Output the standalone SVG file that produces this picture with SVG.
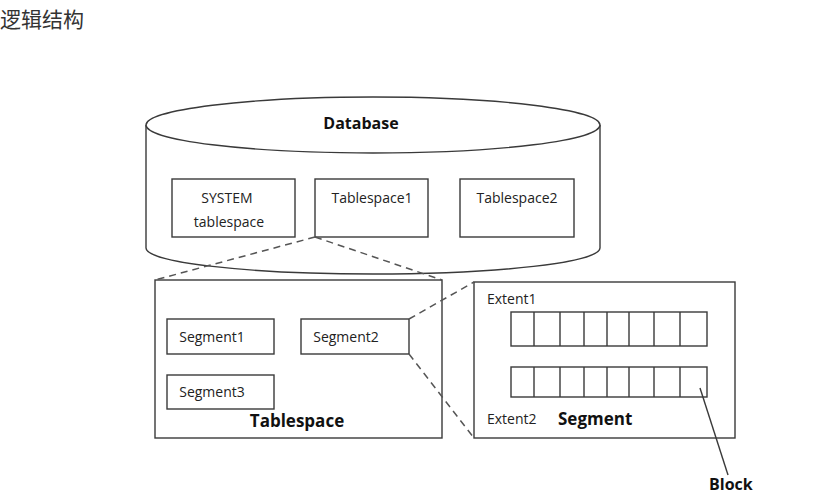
<svg xmlns="http://www.w3.org/2000/svg" width="830" height="500" viewBox="0 0 830 500">
<style>
.ln{fill:none;stroke:#3a3a3a;stroke-width:1.4}
.bx{fill:#fff;stroke:#3a3a3a;stroke-width:1.4}
.ds{fill:none;stroke:#555;stroke-width:1.5;stroke-dasharray:7 5}
.t{font-family:"Open Sans","Noto Sans","Liberation Sans",sans-serif;font-size:14px;fill:#222}
.b{font-family:"Open Sans","Noto Sans","Liberation Sans",sans-serif;font-size:16px;font-weight:bold;fill:#111}
.bl{font-size:17px}
.title{font-family:"Noto Sans CJK SC","Noto Sans",sans-serif;font-size:21px;fill:#333}
</style>
<rect width="830" height="500" fill="#fff"/>
<text class="title" x="0" y="27">逻辑结构</text>

<g id="database">
  <path class="bx" d="M146,125 L146,248 A227,26 0 0 0 600,248 L600,125"/>
  <ellipse class="bx" cx="373" cy="125" rx="227" ry="28"/>
  <text class="b" x="361" y="129" text-anchor="middle">Database</text>
</g>
<g id="system-tablespace">
  <rect class="bx" x="172" y="179" width="123" height="58"/>
  <text class="t" x="227" y="203" text-anchor="middle">SYSTEM</text>
  <text class="t" x="229" y="227" text-anchor="middle">tablespace</text>
</g>
<g id="tablespace1">
  <rect class="bx" x="315" y="179" width="113" height="58"/>
  <text class="t" x="372" y="203" text-anchor="middle">Tablespace1</text>
</g>
<g id="tablespace2">
  <rect class="bx" x="460" y="179" width="114" height="58"/>
  <text class="t" x="517" y="203" text-anchor="middle">Tablespace2</text>
</g>

<g id="tablespace">
  <rect class="bx" x="155" y="280" width="287" height="158"/>
  <text class="b bl" x="297" y="427" text-anchor="middle">Tablespace</text>
</g>
<g id="segment1">
  <rect class="bx" x="167" y="319" width="107" height="35"/>
  <text class="t" x="212" y="342" text-anchor="middle">Segment1</text>
</g>
<g id="segment2">
  <rect class="bx" x="301" y="319" width="108" height="35"/>
  <text class="t" x="346" y="342" text-anchor="middle">Segment2</text>
</g>
<g id="segment3">
  <rect class="bx" x="167" y="375" width="107" height="34"/>
  <text class="t" x="212" y="397" text-anchor="middle">Segment3</text>
</g>

<g id="segment">
  <rect class="bx" x="474" y="282" width="261" height="156"/>
  <text class="t" x="487" y="304">Extent1</text>
  <text class="t" x="487" y="424">Extent2</text>
  <text class="b bl" x="558" y="425">Segment</text>
  <g id="extent1">
    <rect class="bx" x="511" y="312" width="196" height="34"/>
    <path class="ln" d="M534,312V346M560,312V346M584,312V346M607,312V346M629,312V346M654,312V346M680,312V346"/>
  </g>
  <g id="extent2">
    <rect class="bx" x="511" y="367" width="196" height="30"/>
    <path class="ln" d="M534,367V397M560,367V397M584,367V397M607,367V397M629,367V397M654,367V397M680,367V397"/>
  </g>
</g>
<g id="block">
  <text class="b" x="709" y="490">Block</text>
</g>

<g id="connectors">
  <path class="ds" d="M315,237 L155,280"/>
  <path class="ds" d="M315,237 L442,280"/>
  <path class="ds" d="M409,319 L474,282"/>
  <path class="ds" d="M409,354 L474,438"/>
  <path class="ln" d="M700,388 L728,475"/>
</g>
</svg>
